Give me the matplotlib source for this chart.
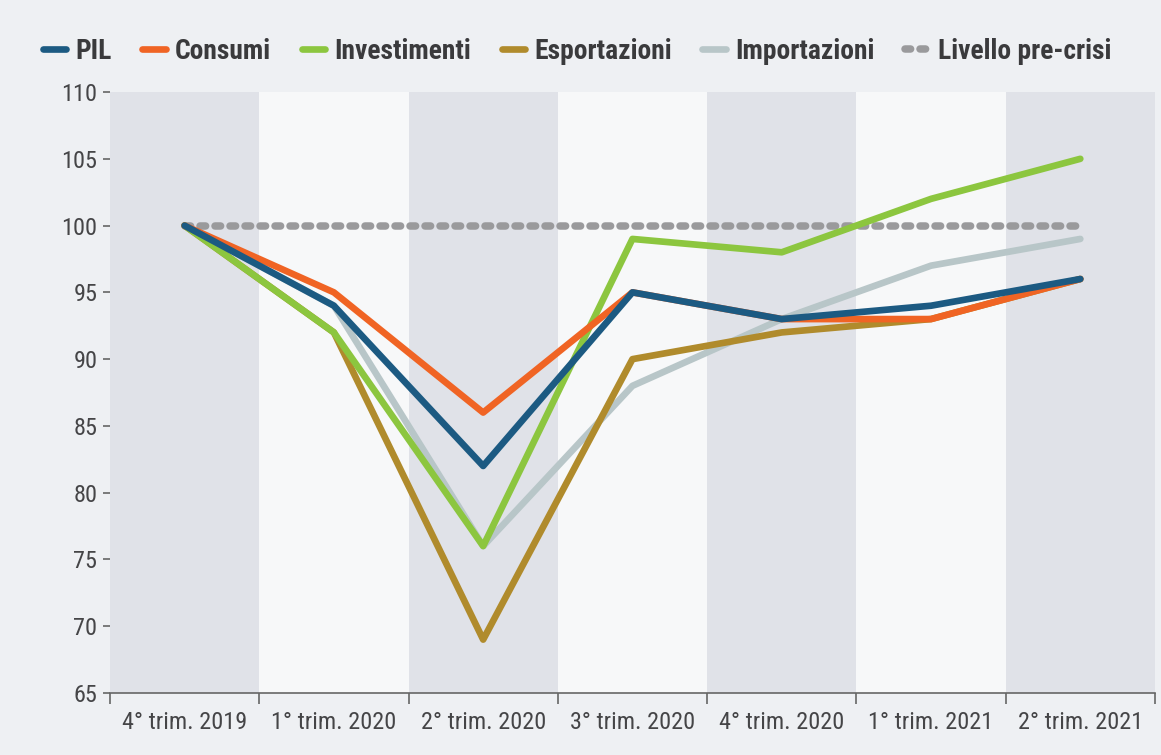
import matplotlib
matplotlib.use("Agg")
import matplotlib.pyplot as plt
import numpy as np

plt.rcParams['font.family'] = ['Roboto Condensed', 'DejaVu Sans']

quarters = ["4° trim. 2019", "1° trim. 2020", "2° trim. 2020", "3° trim. 2020",
            "4° trim. 2020", "1° trim. 2021", "2° trim. 2021"]
pil = [100, 94, 82, 95, 93, 94, 96]
consumi = [100, 95, 86, 95, 93, 93, 96]
investimenti = [100, 92, 76, 99, 98, 102, 105]
esportazioni = [100, 92, 69, 90, 92, 93, 96]
importazioni = [100, 94, 76, 88, 93, 97, 99]
pre_crisi = [100, 100, 100, 100, 100, 100, 100]

fig = plt.figure(figsize=(11.61, 7.55), dpi=100, facecolor="#eef0f3")
ax = fig.add_axes([0.0947, 0.0821, 0.9001, 0.796])
ax.set_facecolor("#f7f8f9")

x = np.arange(len(quarters))
for i in x:
    if i % 2 == 0:
        ax.axvspan(i - 0.5, i + 0.5, color="#e0e2e8", zorder=0, lw=0)

lw = 4.8
ax.plot(x, pre_crisi, color="#9a9a9c", lw=5.4, linestyle=(0, (0.75, 1.25)),
        dash_capstyle="round", zorder=2, label="Livello pre-crisi")
ax.plot(x, importazioni, color="#b8c6c8", lw=lw, solid_capstyle="round", zorder=3, label="Importazioni")
ax.plot(x, esportazioni, color="#b08b2c", lw=lw, solid_capstyle="round", zorder=4, label="Esportazioni")
ax.plot(x, investimenti, color="#8cc63f", lw=lw, solid_capstyle="round", zorder=5, label="Investimenti")
ax.plot(x, consumi, color="#f06424", lw=lw, solid_capstyle="round", zorder=6, label="Consumi")
ax.plot(x, pil, color="#1c5a82", lw=lw, solid_capstyle="round", zorder=7, label="PIL")

ax.set_xlim(-0.5, len(quarters) - 0.5)
ax.set_ylim(65, 110)
ax.set_yticks(np.arange(65, 111, 5))
ax.set_xticks(x)
ax.set_xticklabels(quarters)
ax.set_xticks(np.arange(-0.5, len(quarters), 1), minor=True)
ax.tick_params(axis="x", which="major", length=0, pad=13, labelsize=17.5, labelcolor="#454547")
ax.tick_params(axis="x", which="minor", length=8, width=1.2, color="#666666", direction="out")
ax.tick_params(axis="y", length=5, width=1.2, color="#666666", pad=4, labelsize=17.5,
               labelcolor="#454547")
for s in ["top", "right", "left"]:
    ax.spines[s].set_visible(False)
ax.spines["bottom"].set_color("#666666")
ax.spines["bottom"].set_linewidth(1.2)

handles, labels = ax.get_legend_handles_labels()
order = ["PIL", "Consumi", "Investimenti", "Esportazioni", "Importazioni", "Livello pre-crisi"]
hmap = dict(zip(labels, handles))
leg = fig.legend([hmap[k] for k in order], order, loc="center", bbox_to_anchor=(0.497, 0.932),
                 ncol=6, frameon=False, handlelength=0.85, handletextpad=0.35, columnspacing=1.1,
                 prop={"size": 19.8, "weight": "bold"})
for t in leg.get_texts():
    t.set_color("#3a3a3c")

fig.savefig("out.png", dpi=100, facecolor=fig.get_facecolor())
